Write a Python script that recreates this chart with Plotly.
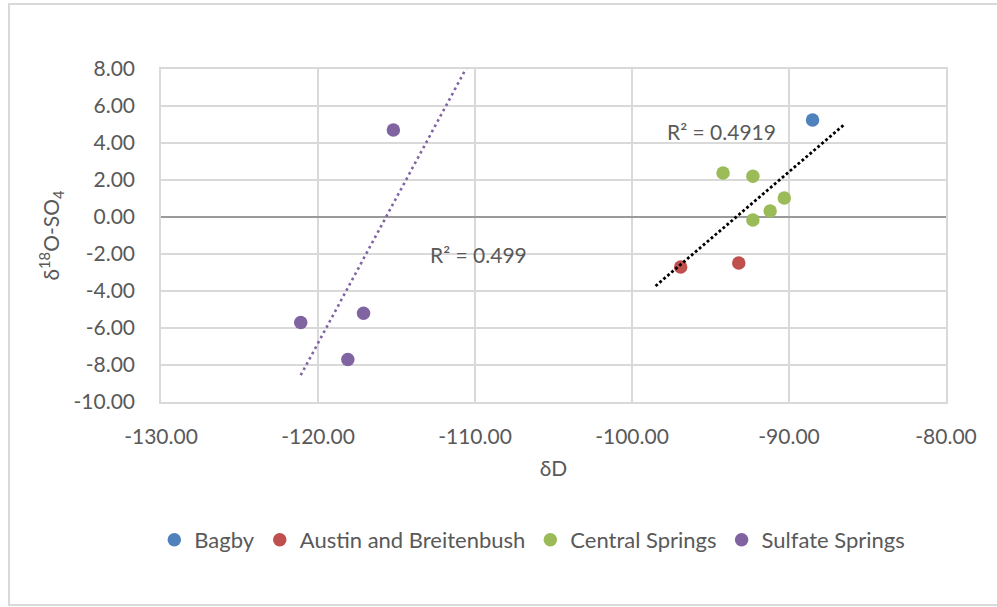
import numpy as np
import plotly.graph_objects as go

# ---- data ----
bagby_x = [-88.5]
bagby_y = [5.24]
austin_x = [-96.9, -93.2]
austin_y = [-2.70, -2.49]
central_x = [-94.2, -92.3, -90.3, -91.2, -92.3]
central_y = [2.38, 2.20, 1.03, 0.32, -0.16]
sulfate_x = [-115.2, -121.1, -117.1, -118.1]
sulfate_y = [4.70, -5.70, -5.20, -7.70]

series_names = ["Bagby", "Austin and Breitenbush", "Central Springs", "Sulfate Springs"]
series_colors = ["#4F81BD", "#C0504D", "#9BBB59", "#8064A2"]

x_ticks = [-130, -120, -110, -100, -90, -80]
y_ticks = [8, 6, 4, 2, 0, -2, -4, -6, -8, -10]

# trendline options (Excel-like forecast settings)
trend_main_back, trend_main_fwd = 1.6, 2.0
trend_sulf_back, trend_sulf_fwd = 0.0, 5.0
r2_main_label = "R² = 0.4919"
r2_sulf_label = "R² = 0.499"

FONT = "Lato"
GREY = "#595959"

fig = go.Figure()
for xs, ys, name, col in zip([bagby_x, austin_x, central_x, sulfate_x],
                             [bagby_y, austin_y, central_y, sulfate_y],
                             series_names, series_colors):
    fig.add_trace(go.Scatter(x=xs, y=ys, mode="markers", name=name,
                             marker=dict(size=13.5, color=col)))

# trendline through Bagby + Austin + Central
mx = np.array(bagby_x + austin_x + central_x)
my = np.array(bagby_y + austin_y + central_y)
m1, b1 = np.polyfit(mx, my, 1)
tx1 = np.array([mx.min() - trend_main_back, mx.max() + trend_main_fwd])
fig.add_trace(go.Scatter(x=tx1, y=m1 * tx1 + b1, mode="lines", showlegend=False,
                         line=dict(color="#000000", width=2.8, dash="2.8px,2.4px"),
                         hoverinfo="skip"))

sx = np.array(sulfate_x)
sy = np.array(sulfate_y)
m2, b2 = np.polyfit(sx, sy, 1)
tx2 = np.array([sx.min() - trend_sulf_back, sx.max() + trend_sulf_fwd])
fig.add_trace(go.Scatter(x=tx2, y=m2 * tx2 + b2, mode="lines", showlegend=False,
                         line=dict(color="#8064A2", width=2.6, dash="2.6px,3.4px"),
                         hoverinfo="skip"))

fig.add_annotation(x=-109.75, y=-2.0, text=r2_sulf_label, showarrow=False,
                   font=dict(family=FONT, size=21, color=GREY))
fig.add_annotation(x=-94.3, y=4.6, text=r2_main_label, showarrow=False,
                   font=dict(family=FONT, size=21, color=GREY))

# outer chart-area border
fig.add_shape(type="rect", xref="paper", yref="paper",
              x0=-0.1936, x1=1.07, y0=-0.6096, y1=1.195,
              line=dict(color="#D9D9D9", width=2), fillcolor="rgba(0,0,0,0)",
              layer="below")

fig.update_layout(
    width=997, height=607,
    margin=dict(l=161, r=51, t=69, b=205),
    paper_bgcolor="white", plot_bgcolor="white",
    font=dict(family=FONT, size=21, color=GREY),
    showlegend=True,
    legend=dict(orientation="h", x=0.473, xanchor="center", y=-0.414, yanchor="middle",
                font=dict(family=FONT, size=22, color=GREY), itemwidth=30,
                bgcolor="rgba(0,0,0,0)"),
    xaxis=dict(range=[-130, -80], tickvals=x_ticks,
               ticktext=[f"{v:.2f}" for v in x_ticks],
               showgrid=True, gridcolor="#D9D9D9", gridwidth=1.5,
               zeroline=False, showline=True, linecolor="#D9D9D9", linewidth=1.5,
               mirror=True, ticks="", ticklabelstandoff=15,
               title=dict(text="δD", standoff=14, font=dict(family=FONT, size=21, color=GREY))),
    yaxis=dict(range=[-10, 8], tickvals=y_ticks,
               ticktext=[f"{v:.2f}" for v in y_ticks],
               showgrid=True, gridcolor="#D9D9D9", gridwidth=1.5,
               zeroline=True, zerolinecolor="#9A9A9A", zerolinewidth=1.5,
               showline=True, linecolor="#D9D9D9", linewidth=1.5, mirror=True,
               ticks="", ticklabelstandoff=20,
               title=dict(text="δ<sup>18</sup>O-SO<sub>4</sub>", standoff=8,
                          font=dict(family=FONT, size=21, color=GREY))),
)

fig.write_html("out.html")
